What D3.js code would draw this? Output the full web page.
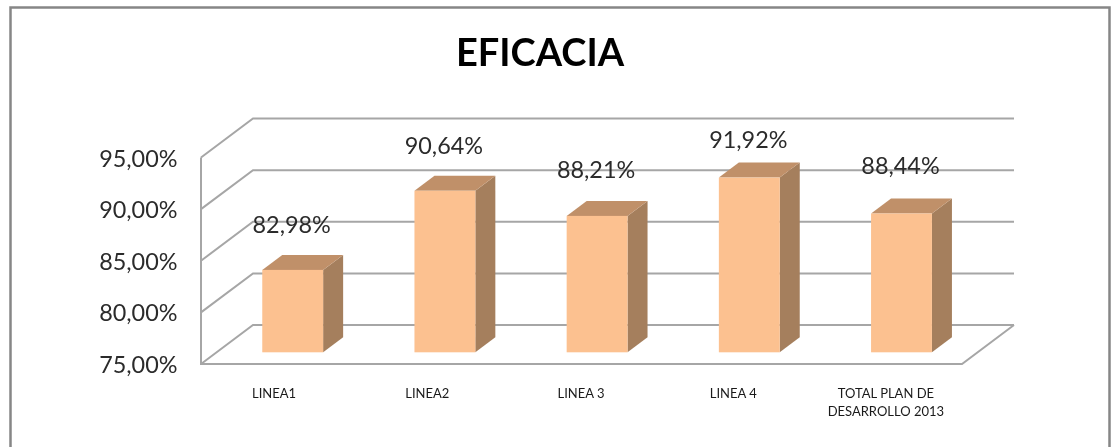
<!DOCTYPE html>
<html><head><meta charset="utf-8">
<script src="https://cdn.jsdelivr.net/npm/d3@7"></script>
<style>html,body{margin:0;padding:0;background:#fff}svg{display:block;filter:blur(0.4px)}text{font-family:Lato,"Open Sans",sans-serif}</style>
</head><body><svg id="c" width="1113" height="447"></svg>
<script>
const chartTitle = "EFICACIA";
const categories = ["LINEA1","LINEA2","LINEA 3","LINEA 4","TOTAL PLAN DE\nDESARROLLO 2013"];
const values = [82.98,90.64,88.21,91.92,88.44];
const yTicks = [75,80,85,90,95];

const svg = d3.select("#c");
const fmt = v => v.toFixed(2).replace(".",",")+"%";
const dx = 52, dy = -39;                 // wall depth
const x0 = 201, x1 = 962, yB = 364, yT = 157.5;
const y = d3.scaleLinear().domain([75,95]).range([yB,yT]);
const barDepth = 0.3;                    // where the bars stand inside the floor
const x = d3.scaleBand().domain(categories).range([x0,x1]).paddingInner(0.6).paddingOuter(0.3);
const bdx = 20, bdy = -15;

// frame
svg.append("path").attr("d","M10.5,448V7.5H1109.5V448").attr("fill","none").attr("stroke","#868686").attr("stroke-width",2.5);

const grid = "#a6a6a6";
// walls and grid
svg.append("g").selectAll("path").data(yTicks).join("path")
  .attr("d",t=>`M${x0},${y(t)}L${x0+dx},${y(t)+dy}H${x1+dx}`)
  .attr("fill","none").attr("stroke",grid).attr("stroke-width",2);
svg.append("path").attr("d",`M${x0},${y(95)}V${yB}H${x1}L${x1+dx},${yB+dy}`)
  .attr("fill","none").attr("stroke",grid).attr("stroke-width",2);

// bars
const ox = dx*barDepth, oy = dy*barDepth;
const bars = svg.append("g").selectAll("g").data(categories).join("g");
const bx = c => x(c)+ox;
const bw = x.bandwidth();
const topY = (c,i)=>y(values[i])+oy, base = yB+oy;
bars.append("path").attr("fill","#a57f5d")
  .attr("d",(c,i)=>`M${bx(c)+bw},${topY(c,i)}l${bdx},${bdy}V${base+bdy}l${-bdx},${-bdy}Z`);
bars.append("path").attr("fill","#c09069")
  .attr("d",(c,i)=>`M${bx(c)},${topY(c,i)}l${bdx},${bdy}h${bw}l${-bdx},${-bdy}Z`);
bars.append("rect").attr("fill","#fcc190")
  .attr("x",c=>bx(c)).attr("width",bw).attr("y",topY).attr("height",(c,i)=>base-topY(c,i));

// value labels
svg.append("g").selectAll("text").data(categories).join("text")
  .attr("x",c=>bx(c)+bw/2-1).attr("y",(c,i)=>[233,154,178,148,174][i])
  .attr("text-anchor","middle").attr("font-size",23.4).attr("fill","#2b2b2b")
  .text((c,i)=>fmt(values[i]));

// y axis
svg.append("g").selectAll("text").data(yTicks).join("text")
  .attr("x",177.5).attr("y",t=>y(t)+9).attr("text-anchor","end")
  .attr("font-size",23.4).attr("fill","#2b2b2b").text(t=>fmt(t));

// x labels
svg.append("g").selectAll("text").data(categories).join("text")
  .attr("text-anchor","middle").attr("font-size",13).attr("fill","#1a1a1a")
  .each(function(c,k){
    const cx = x(c)+x.bandwidth()/2+[-3,-2,-0.5,-0.5,0][k];
    c.split("\n").forEach((l,i)=>d3.select(this).append("tspan").attr("x",cx).attr("y",398+i*18).text(l));
  });

svg.append("text").attr("x",540).attr("y",66).attr("text-anchor","middle")
  .attr("font-size",38).attr("font-weight",700).attr("fill","#000").text(chartTitle);
</script></body></html>
